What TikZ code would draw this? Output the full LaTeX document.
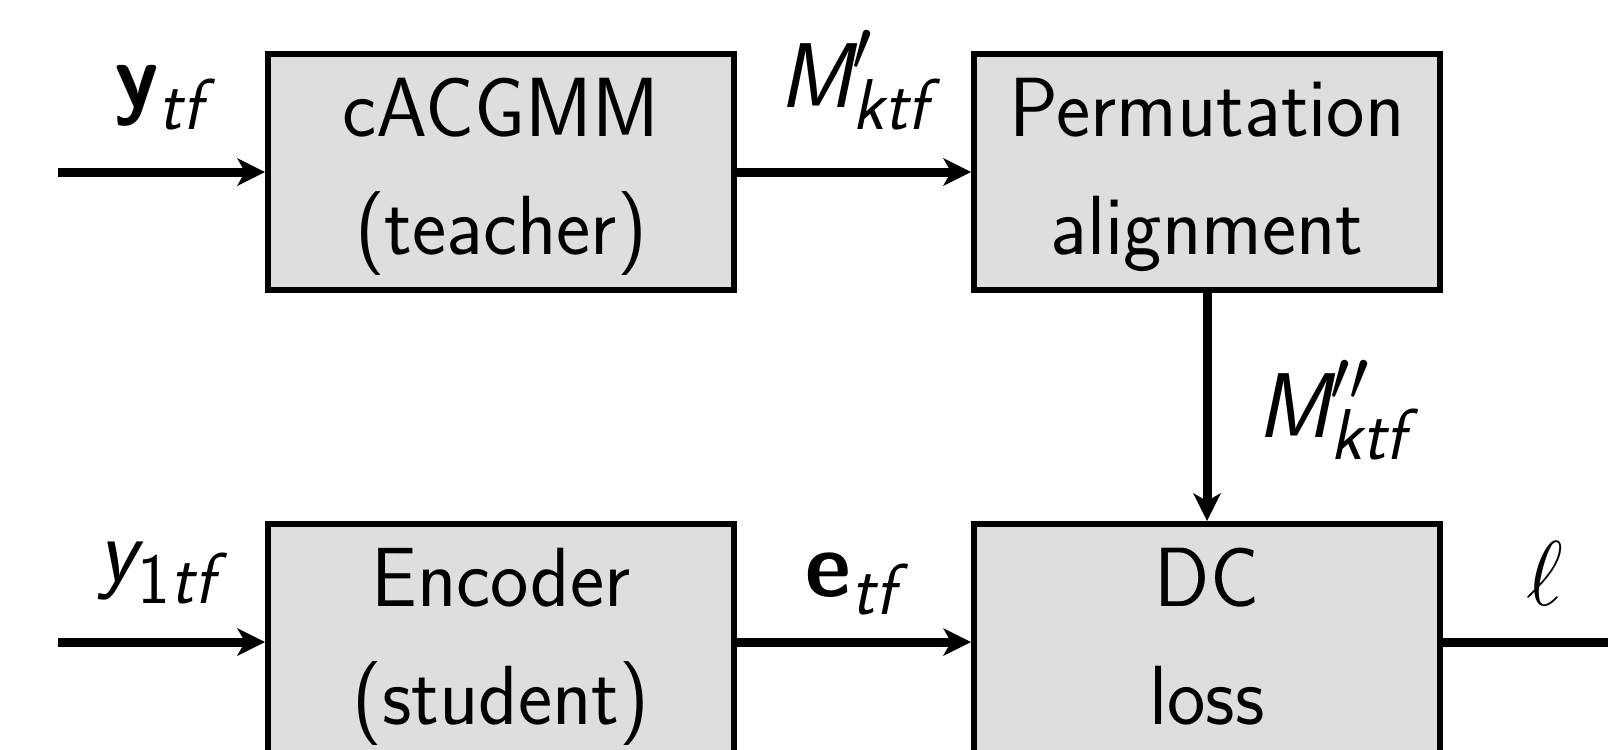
\RequirePackage{fix-cm}
\documentclass[tikz,border=0pt]{standalone}
\usepackage{fontspec}
\usepackage{amsmath}
\usepackage{graphicx}
\usetikzlibrary{arrows.meta}
\DeclareMathSizes{46}{46}{36}{30}
\definecolor{boxgray}{HTML}{DEDEDE}
\newcommand\boxtext[2]{\scalebox{0.97}[1]{\begin{tabular}{@{}c@{}}#1\\#2\end{tabular}}}
\newcommand\mlbl[1]{\scalebox{0.97}[1]{$#1$}}
\tikzset{
  blockbox/.style={draw=black, line width=3pt, fill=boxgray, minimum width=233pt,
    minimum height=116pt, inner sep=0pt, font=\sffamily\fontsize{42}{59}\selectfont},
  sig/.style={line width=4.5pt, -{Stealth[length=14pt,width=14pt,inset=4pt,line width=0pt]}},
  plainsig/.style={line width=4.5pt},
  lbl/.style={anchor=base, inner sep=0pt, font=\sffamily\fontsize{46}{59}\selectfont},
}
\begin{document}
\begin{tikzpicture}[x=0.5pt,y=-0.5pt]
\clip (0,0) rectangle (1608,750);
\node[blockbox] (teacher) at (501,172) {\boxtext{cACGMM}{(teacher)}};
\node[blockbox] (perm) at (1207,172) {\boxtext{Permutation}{alignment}};
\node[blockbox] (student) at (501,642) {\boxtext{Encoder}{(student)}};
\node[blockbox] (dcloss) at (1207,642) {\boxtext{DC}{loss}};
\coordinate (in1) at (58,172);
\coordinate (in2) at (58,642);
\coordinate (out) at (1620,642);
\draw[sig] (in1) -- (teacher.west);
\draw[sig] (teacher.east) -- (perm.west);
\draw[sig] (perm.south) -- (dcloss.north);
\draw[sig] (in2) -- (student.west);
\draw[sig] (student.east) -- (dcloss.west);
\draw[plainsig] (dcloss.east) -- (out);
\node[lbl] (lytf) at (159,107) {\mlbl{\textbf{y}_{\textit{tf}}}};
\node[lbl] (lmp) at (854,107) {\mlbl{\textit{M}'_{\textit{ktf}}}};
\node[lbl] (lmpp) at (1332,437) {\mlbl{\textit{M}''_{\textit{ktf}}}};
\node[lbl] (ly1) at (157,581) {\mlbl{\textit{y}_{\text{1}\textit{tf}}}};
\node[lbl] (le) at (851,596) {\mlbl{\textbf{e}_{\textit{tf}}}};
\node[lbl] (lell) at (1545,605) {\mlbl{\ell}};
\end{tikzpicture}
\end{document}
